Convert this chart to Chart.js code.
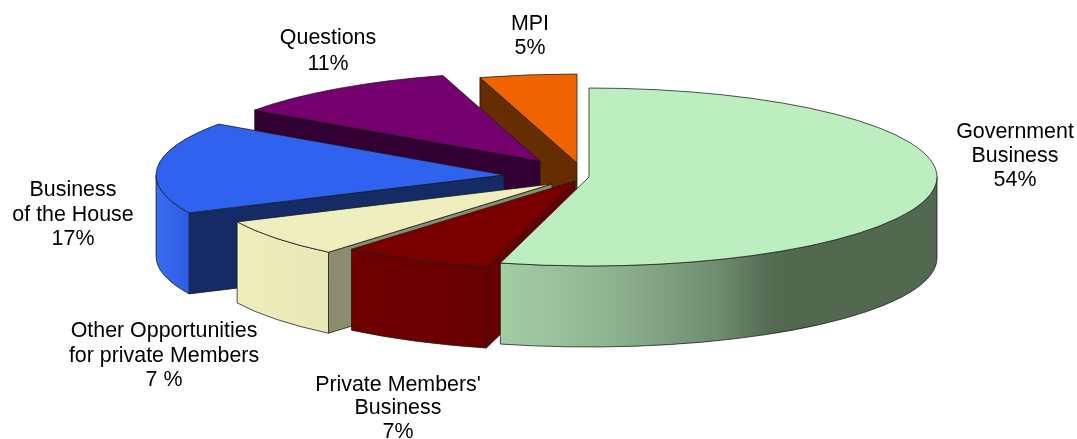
<!DOCTYPE html>
<html>
<head>
<meta charset="utf-8">
<title>Time in the House</title>
<script src="https://cdn.jsdelivr.net/npm/chart.js@4"></script>
<style>
  html, body { margin: 0; background: #fff; }
  canvas { display: block; }
</style>
</head>
<body>
<canvas id="pizza" width="1077" height="439"></canvas>
<script>
const categorias = ['Government Business', "Private Members' Business", 'Other Opportunities for private Members', 'Business of the House', 'Questions', 'MPI'];
const valores = [54.1, 7.0, 6.9, 16.7, 10.8, 4.5];

const coresTopo = ['#bceebf', '#7a0000', '#eeeebf', '#2f62ee', '#770070', '#f06400'];
const coresCorte = ['#52684f', '#660000', '#8c8c6e', '#142b66', '#330033', '#662e00'];
const coresBorda = [
  [[0, '#a3cda5'], [0.25, '#8fb391'], [0.5, '#6e8d70'], [0.6, '#586f56'], [0.64, '#52684f'], [1, '#52684f']],
  [[0, '#700000'], [1, '#680000']],
  [[0, '#eeeebc'], [1, '#e8e8b8']],
  [[0, '#3a6cf0'], [1, '#2c5ce4']],
  [[0, '#330033'], [1, '#330033']],
  [[0, '#662e00'], [1, '#662e00']]
];

// deslocamento de cada fatia em relacao ao centro da pizza (pixels da tela)
const afastaX = [11, -3, -26, -74, -38, -1];
const afastaY = [1, 5, 8, -1, -15, -13];

const achatamento = 0.2557;
const profundidade = 81;
const ordemParedes = [5, 4, 3, 2, 1, 0];

const rotulos = [
  { linhas: ['Government', 'Business', '54%'], x: 1015, y: [132, 156, 180] },
  { linhas: ["Private Members'", 'Business', '7%'], x: 398, y: [385, 408, 432] },
  { linhas: ['Other Opportunities', 'for private Members', '7 %'], x: 164, y: [331, 356, 380] },
  { linhas: ['Business', 'of the House', '17%'], x: 73, y: [190, 215, 239] },
  { linhas: ['Questions', '11%'], x: 328, y: [38, 64] },
  { linhas: ['MPI', '5%'], x: 530, y: [24, 48] }
];

function centroTela(arco, cy) {
  return { x: arco.x, y: cy + (arco.y - cy) * achatamento };
}

function ponto(c, r, ang, desce) {
  return { x: c.x + Math.cos(ang) * r, y: c.y + Math.sin(ang) * r * achatamento + desce };
}

function paredeCorte(ctx, arco, c, i) {
  const p = ponto(c, arco.outerRadius, arco.startAngle, 0);
  ctx.beginPath();
  ctx.moveTo(c.x, c.y);
  ctx.lineTo(p.x, p.y);
  ctx.lineTo(p.x, p.y + profundidade);
  ctx.lineTo(c.x, c.y + profundidade);
  ctx.closePath();
  ctx.fillStyle = coresCorte[i];
  ctx.fill();
  ctx.stroke();
}

function paredeBorda(ctx, arco, c, i) {
  // so a parte da frente da borda aparece (seno positivo)
  const ini = Math.max(arco.startAngle, 0);
  const fim = Math.min(arco.endAngle, Math.PI);
  if (fim <= ini) return;
  const r = arco.outerRadius, ry = r * achatamento;
  const pa = ponto(c, r, ini, 0), pb = ponto(c, r, fim, 0);
  const grad = ctx.createLinearGradient(Math.min(pa.x, pb.x), 0, Math.max(pa.x, pb.x), 0);
  coresBorda[i].forEach(s => grad.addColorStop(s[0], s[1]));
  ctx.beginPath();
  ctx.ellipse(c.x, c.y, r, ry, 0, ini, fim);
  ctx.lineTo(pb.x, pb.y + profundidade);
  ctx.ellipse(c.x, c.y + profundidade, r, ry, 0, fim, ini, true);
  ctx.closePath();
  ctx.fillStyle = grad;
  ctx.fill();
  ctx.stroke();
}

const pizza3d = {
  id: 'pizza3d',
  afterDatasetsUpdate(chart) {
    const arcos = chart.getDatasetMeta(0).data;
    const cy = (chart.chartArea.top + chart.chartArea.bottom) / 2;
    arcos.forEach((a, i) => {
      a.x += afastaX[i];
      a.y = cy + afastaY[i] / achatamento;
    });
  },
  beforeDatasetsDraw(chart) {
    const ctx = chart.ctx;
    const arcos = chart.getDatasetMeta(0).data;
    const cy = (chart.chartArea.top + chart.chartArea.bottom) / 2;
    ctx.save();
    ctx.strokeStyle = 'rgba(25,25,25,0.75)';
    ctx.lineWidth = 1;
    ordemParedes.forEach(i => {
      const a = arcos[i], c = centroTela(a, cy);
      if (Math.cos(a.startAngle) < -0.001) paredeCorte(ctx, a, c, i);
      paredeBorda(ctx, a, c, i);
    });
    ctx.restore();
    // o topo das fatias e desenhado pela propria lib, so que achatado
    ctx.save();
    ctx.translate(0, cy);
    ctx.scale(1, achatamento);
    ctx.translate(0, -cy);
  },
  afterDatasetsDraw(chart) {
    const ctx = chart.ctx;
    ctx.restore();
    const arcos = chart.getDatasetMeta(0).data;
    const cy = (chart.chartArea.top + chart.chartArea.bottom) / 2;
    ctx.save();
    ctx.strokeStyle = 'rgba(25,25,25,0.75)';
    ctx.lineWidth = 1;
    arcos.forEach(a => {
      const c = centroTela(a, cy);
      ctx.beginPath();
      ctx.moveTo(c.x, c.y);
      ctx.ellipse(c.x, c.y, a.outerRadius, a.outerRadius * achatamento, 0, a.startAngle, a.endAngle);
      ctx.closePath();
      ctx.stroke();
    });
    ctx.restore();
  },
  afterDraw(chart) {
    const ctx = chart.ctx;
    ctx.save();
    ctx.fillStyle = '#000';
    ctx.font = '21.4px "Liberation Sans", Arial, sans-serif';
    ctx.textAlign = 'center';
    ctx.textBaseline = 'middle';
    rotulos.forEach(r => {
      r.linhas.forEach((t, j) => ctx.fillText(t, r.x, r.y[j]));
    });
    ctx.restore();
  }
};

new Chart(document.getElementById('pizza'), {
  type: 'pie',
  data: {
    labels: categorias,
    datasets: [{
      data: valores,
      backgroundColor: coresTopo,
      borderWidth: 0,
      radius: 348,
      clip: false
    }]
  },
  options: {
    responsive: false,
    animation: false,
    layout: { padding: { left: 79, bottom: 87 } },
    plugins: { legend: { display: false }, tooltip: { enabled: false } }
  },
  plugins: [pizza3d]
});
</script>
</body>
</html>
